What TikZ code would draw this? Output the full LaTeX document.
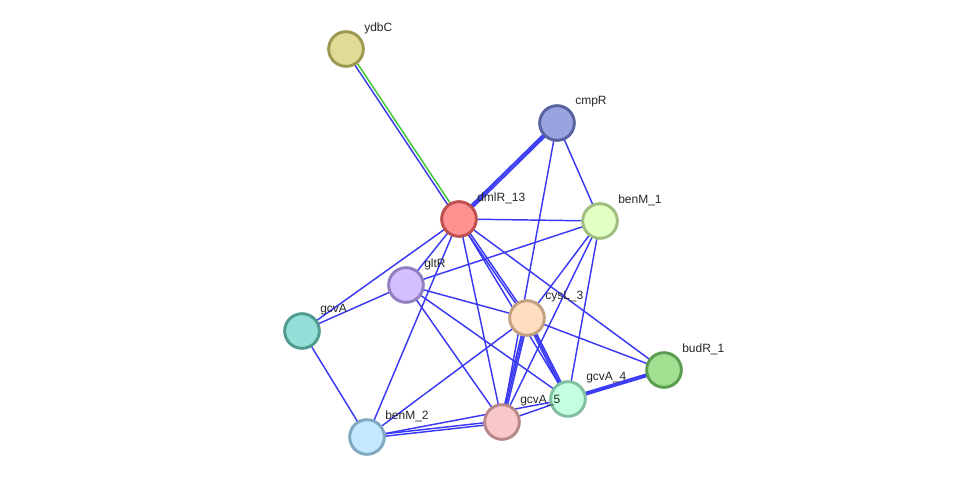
\documentclass[tikz,border=0pt]{standalone}
\usepackage{fontspec}
\setmainfont{Liberation Sans}
\usetikzlibrary{calc, backgrounds}

\definecolor{linkblue}{RGB}{58,58,245}
\definecolor{linkgreen}{RGB}{60,200,50}

\begin{document}
\begin{tikzpicture}[
  x=0.75pt, y=-0.75pt,
  protein/.style={circle, draw, line width=2.2pt, minimum size=26pt, inner sep=0pt},
  tag/.style={font=\fontsize{9}{10}\selectfont, text=black!85, anchor=west, inner sep=0pt},
  link/.style={line width=1.1pt, draw=linkblue},
  evid/.style={line width=1.1pt, draw=linkgreen}
]
\useasboundingbox (0,0) rectangle (975,483);

% --- Proteins ---
\node[protein, fill={rgb,255:red,224;green,220;blue,150}, draw={rgb,255:red,156;green,152;blue,80}] (ydbC) at (346,49) {};
\node[protein, fill={rgb,255:red,152;green,163;blue,224}, draw={rgb,255:red,88;green,98;blue,160}] (cmpR) at (557,123) {};
\node[protein, fill={rgb,255:red,255;green,145;blue,145}, draw={rgb,255:red,190;green,80;blue,80}] (dmlR13) at (459,219) {};
\node[protein, fill={rgb,255:red,226;green,255;blue,196}, draw={rgb,255:red,160;green,190;blue,128}] (benM1) at (600,221) {};
\node[protein, fill={rgb,255:red,212;green,192;blue,255}, draw={rgb,255:red,144;green,128;blue,192}] (gltR) at (406,285) {};
\node[protein, fill={rgb,255:red,148;green,224;blue,216}, draw={rgb,255:red,80;green,154;blue,144}] (gcvA) at (302,331) {};
\node[protein, fill={rgb,255:red,255;green,222;blue,192}, draw={rgb,255:red,192;green,160;blue,128}] (cysL3) at (527,318) {};
\node[protein, fill={rgb,255:red,160;green,224;blue,144}, draw={rgb,255:red,90;green,156;blue,80}] (budR1) at (664,370) {};
\node[protein, fill={rgb,255:red,196;green,255;blue,224}, draw={rgb,255:red,128;green,192;blue,160}] (gcvA4) at (568,399) {};
\node[protein, fill={rgb,255:red,248;green,200;blue,200}, draw={rgb,255:red,184;green,136;blue,136}] (gcvA5) at (502,422) {};
\node[protein, fill={rgb,255:red,196;green,232;blue,255}, draw={rgb,255:red,128;green,168;blue,192}] (benM2) at (367,437) {};

% --- Names ---
\node[tag] (ydbC-t) at ([shift={(18,-21)}]ydbC.center) {ydbC};
\node[tag] (cmpR-t) at ([shift={(18,-21)}]cmpR.center) {cmpR};
\node[tag] (dmlR13-t) at ([shift={(18,-21)}]dmlR13.center) {dmlR\_13};
\node[tag] (benM1-t) at ([shift={(18,-21)}]benM1.center) {benM\_1};
\node[tag] (gltR-t) at ([shift={(18,-21)}]gltR.center) {gltR};
\node[tag] (gcvA-t) at ([shift={(18,-21)}]gcvA.center) {gcvA};
\node[tag] (cysL3-t) at ([shift={(18,-21)}]cysL3.center) {cysL\_3};
\node[tag] (budR1-t) at ([shift={(18,-21)}]budR1.center) {budR\_1};
\node[tag] (gcvA4-t) at ([shift={(18,-21)}]gcvA4.center) {gcvA\_4};
\node[tag] (gcvA5-t) at ([shift={(18,-21)}]gcvA5.center) {gcvA\_5};
\node[tag] (benM2-t) at ([shift={(18,-21)}]benM2.center) {benM\_2};

% --- Associations ---
\begin{scope}[on background layer]
  \draw[link] ($(ydbC.center)!-1.1pt!90:(dmlR13.center)$) -- ($(dmlR13.center)!-1.1pt!-90:(ydbC.center)$);
  \draw[evid] ($(ydbC.center)!1.1pt!90:(dmlR13.center)$) -- ($(dmlR13.center)!1.1pt!-90:(ydbC.center)$);
  % several channels
  \foreach \a/\b/\offs in {cmpR/dmlR13/{-1.1pt,0pt,1.1pt}, dmlR13/cysL3/{-0.8pt,0.8pt},
      cysL3/gcvA4/{-1.1pt,0pt,1.1pt}, cysL3/gcvA5/{-1.1pt,0pt,1.1pt},
      gcvA4/budR1/{-0.9pt,0pt,0.9pt}, gcvA5/benM2/{-0.9pt,0.9pt}}
    \foreach \o in \offs
      \draw[link] ($(\a.center)!\o!90:(\b.center)$) -- ($(\b.center)!\o!-90:(\a.center)$);
  % single channel
  \foreach \a/\b in {cmpR/benM1, cmpR/gcvA5, dmlR13/benM1, dmlR13/gltR, dmlR13/gcvA,
      dmlR13/benM2, dmlR13/gcvA5, dmlR13/gcvA4, dmlR13/budR1, benM1/gltR, benM1/cysL3,
      benM1/gcvA5, benM1/gcvA4, gltR/gcvA, gltR/cysL3, gltR/gcvA5, gltR/gcvA4,
      gcvA/benM2, cysL3/benM2, cysL3/budR1, gcvA4/gcvA5, gcvA4/benM2}
    \draw[link] (\a.center) -- (\b.center);
\end{scope}

\end{tikzpicture}
\end{document}
